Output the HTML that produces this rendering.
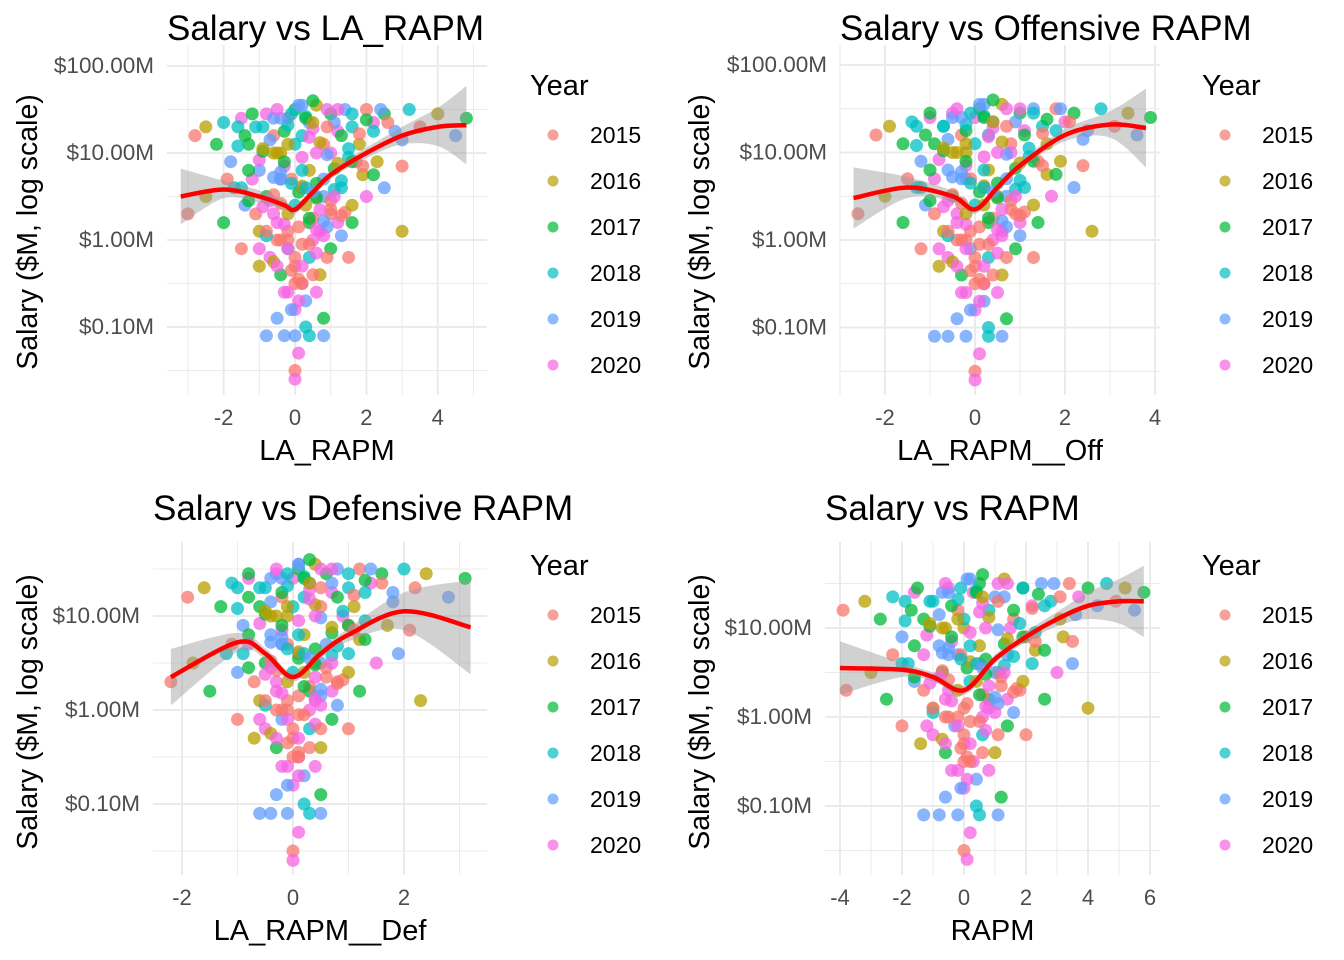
<!DOCTYPE html>
<html><head><meta charset="utf-8">
<style>
html,body{margin:0;padding:0;background:#fff;}
svg{display:block;font-family:"Liberation Sans",Arial,sans-serif;}
</style></head>
<body>
<svg id="chart" width="1344" height="960" viewBox="0 0 1344 960" xmlns="http://www.w3.org/2000/svg"></svg>
<script>
// Shared player salaries (log10 $M) and years, x metrics per panel
const salaryLog = [1.2,1.3,1.1,1.35,0.9,1.4,1.1,1.3,0.8,1.45,1.2,1.0,1.4,1.5,1.2,1.35,1.55,1.1,1.45,1.25,1.5,1.3,1.1,1.5,1.35,1.45,1.25,1.5,1.3,1.45,1.2,1.4,1.0,0.95,0.9,0.85,
 0.3,0.5,0.2,0.6,0.4,0.7,0.1,0.5,0.3,0.7,0.1,0.4,0.6,0.2,0.5,0.7,0.3,0.6,0.2,0.5,0.6,0.1,0.0,0.0,
 -0.1,-0.3,-0.2,-0.4,-0.1,-0.3,-0.5,-0.2,-0.4,-0.1,-0.2,-0.6,-0.7,-0.5,-0.6,
 -0.9,-0.8,-1.0,-0.9,-1.1,-1.1,-1.1,-1.1,-1.1,-1.3,-1.5,-1.6,
 1.45,1.3,1.15,1.0,0.85,0.7,0.55,0.4,0.25,0.1,
 1.4,1.25,1.1,0.95,0.8,0.65,0.5,0.35,0.2,0.05,
 1.5,1.35,1.2,1.05,0.9,0.75,0.6,0.45,0.3,0.15,
 1.42,1.28,1.12,0.98,0.82,0.68,0.52,0.38,0.22,0.0,
 1.38,1.22,1.08,0.92,0.78,0.62,0.48,0.32,0.18,-0.05,
 1.55,1.32,1.18,1.02,0.88,0.72,0.58,0.42,0.28,0.12,
 0.0,-0.1,-0.2,-0.3,-0.05,-0.15,-0.25,-0.35,0.05,-0.45,
 0.1,0.2,0.3,0.15,0.25,0.35,0.45,0.05,-0.1,-0.2,
 1.3,1.2,1.4,1.1,1.0,0.9,1.25,1.35,1.15,1.05,
 0.8,0.7,0.6,0.5,0.4,0.85,0.75,0.65,0.55,0.45,
 1.5,1.45,1.4,1.55,1.35,1.3,1.5,1.45,1.6,1.5,
 -0.6,-0.5,-0.7,-0.8,-0.4,-0.3,0.9,0.8,1.0,0.7];
const yearIdx = [0,1,2,3,4,5,2,3,4,5,0,1,5,2,3,4,1,0,2,5,4,3,1,0,5,2,4,3,0,1,4,2,5,3,1,0,
 0,1,2,3,4,5,1,2,5,4,0,3,5,2,1,4,0,3,2,5,4,1,0,5,
 0,1,5,2,4,0,5,3,1,2,0,5,4,0,5,
 4,5,3,2,4,4,3,4,4,5,0,5,
 2,3,4,1,5,0,2,1,0,5,
 4,2,3,5,1,2,4,0,5,3,
 5,4,2,3,0,1,3,2,0,4,
 3,5,1,4,2,3,0,5,4,0,
 2,0,3,5,4,1,2,0,5,0,
 4,3,5,2,1,4,3,0,0,5,
 0,5,0,5,0,5,1,0,5,0,
 0,5,1,0,2,5,0,4,5,0,
 3,2,4,1,5,2,3,0,4,1,
 2,4,3,5,1,0,2,3,4,5,
 5,3,2,4,1,0,5,3,2,4,
 5,0,5,4,0,5,2,3,1,0];
const years = ["2015","2016","2017","2018","2019","2020"];
const xLA = [-2.8,-2.5,-2.2,-2,-1.8,-1.5,-1.3,-1.1,-1,-0.8,-0.6,-0.4,-0.2,0,0.2,0.4,0.6,0.8,1,1.2,1.4,1.6,1.8,2,2.2,2.5,2.8,3.2,3.5,4,4.5,4.8,1,1.5,2.3,3,
 -3,-2.5,-2,-1.7,-1.4,-1.2,-1,-0.8,-0.6,-0.4,-0.2,0,0.2,0.4,0.6,0.8,1,1.3,1.6,2,2.5,3,-0.5,0.5,
 -1.5,-1,-0.7,-0.4,-0.2,0,0.2,0.4,0.7,1,1.5,-0.3,0.3,0,0.6,
 -0.5,0,0.3,0.8,-0.3,0,0.4,0.8,-0.8,0.1,0,0,
 -1.2,-0.9,-0.7,-0.5,-0.3,-0.1,0.1,0.3,0.5,0.7,
 -0.6,-0.3,0,0.2,0.4,0.6,0.8,1.0,1.2,-0.8,
 0.9,1.1,1.3,1.5,1.7,1.9,-1.5,-1.3,-1.1,0.9,
 0.3,0.5,0.7,0.9,1.1,1.3,-0.6,-0.9,0.8,-0.2,
 2.0,1.8,-1.6,-1.0,-0.4,0.2,0.6,1.4,-0.3,0.2,
 0.2,-0.2,0.4,-0.9,1.2,-0.6,1.1,-0.4,1.3,0.6,
 -0.4,-0.2,0,0.2,0.4,0.6,-0.6,-0.1,0.8,0.1,
 -0.8,-0.5,-0.2,0.1,0.4,0.7,1.0,1.3,-1.0,0.9,
 -1.6,-1.4,-0.4,-0.2,0.6,1.6,2.2,2.6,3.0,-0.9,
 -1.3,-0.4,0.3,1.1,1.6,1.9,2.2,-0.1,0.5,-0.7,
 -0.5,-0.1,0.3,0.1,0.5,0.9,1.2,1.6,0.5,2.4,
 -0.2,0.2,0.1,-0.1,0.5,-0.5,-0.3,0.2,-0.6,-1.9];
const xOff = [-2.2,-1.9,-1.6,-1.4,-1.2,-1,-0.9,-0.7,-0.6,-0.5,-0.3,-0.2,0,0.1,0.3,0.4,0.6,0.8,1,1.1,1.3,1.5,1.6,1.8,2,2.2,2.5,2.8,3.1,3.4,3.6,3.9,0.8,1.2,1.9,2.4,
 -2.6,-2,-1.6,-1.3,-1.1,-0.9,-0.7,-0.5,-0.4,-0.2,-0.1,0,0.2,0.3,0.5,0.7,0.9,1.1,1.4,1.7,2.2,2.6,-0.4,0.4,
 -1.2,-0.8,-0.6,-0.3,-0.1,0,0.2,0.3,0.6,0.9,1.3,-0.3,0.2,0,0.5,
 -0.4,0,0.3,0.7,-0.6,-0.2,0.3,0.6,-0.9,0.1,0,0,
 -1.0,-0.7,-0.6,-0.4,-0.2,-0.1,0.1,0.2,0.4,0.6,
 -0.5,-0.2,0,0.2,0.3,0.5,0.7,0.8,1.0,-0.6,
 0.7,0.9,1.1,1.2,1.4,1.6,-1.2,-1.0,-0.9,0.7,
 0.2,0.4,0.6,0.7,0.9,1.0,-0.5,-0.7,0.6,-0.2,
 1.6,1.5,-1.3,-0.8,-0.3,0.2,0.5,1.1,-0.2,0.1,
 0.2,-0.2,0.3,-0.7,1.0,-0.5,0.9,-0.3,1.0,0.5,
 -0.3,-0.2,0,0.2,0.3,0.5,-0.5,-0.1,0.6,0.1,
 -0.6,-0.4,-0.2,0.1,0.3,0.6,0.8,1.0,-0.8,0.7,
 -1.3,-1.1,-0.3,-0.2,0.5,1.3,1.8,2.1,2.4,-0.7,
 -1.0,-0.3,0.2,0.9,1.3,1.5,1.8,-0.1,0.4,-0.6,
 -0.4,-0.1,0.2,0.1,0.4,0.7,1.0,1.3,0.4,1.9,
 -0.2,0.2,0.1,-0.1,0.4,-0.4,-0.2,0.2,-0.5,-1.5];
const xDef = [-1.9,-1.6,-1.3,-1.1,-0.9,-0.8,-0.6,-0.5,-0.4,-0.3,-0.2,-0.1,0,0.1,0.2,0.3,0.4,0.5,0.6,0.7,0.8,1,1.1,1.2,1.4,1.6,1.8,2,2.2,2.4,2.8,3.1,0.9,1.3,1.7,2.1,
 -2.2,-1.8,-1.5,-1.2,-1,-0.8,-0.6,-0.5,-0.3,-0.2,-0.1,0,0.1,0.3,0.4,0.6,0.8,1,1.2,1.5,1.9,2.3,-0.3,0.3,
 -1,-0.7,-0.5,-0.3,-0.2,0,0.1,0.3,0.5,0.7,1,-0.2,0.2,0,0.4,
 -0.3,0,0.2,0.5,-0.4,-0.1,0.3,0.5,-0.6,0.1,0,0,
 -0.8,-0.6,-0.4,-0.3,-0.2,-0.1,0.1,0.2,0.3,0.4,
 -0.4,-0.2,0,0.1,0.2,0.4,0.5,0.6,0.7,-0.5,
 0.5,0.7,0.8,0.9,1.0,1.2,-0.9,-0.8,-0.7,0.5,
 0.2,0.3,0.4,0.5,0.7,0.8,-0.4,-0.5,0.5,-0.1,
 1.3,1.1,-1.0,-0.6,-0.2,0.1,0.4,0.9,-0.2,0.1,
 0.1,-0.1,0.3,-0.5,0.7,-0.4,0.7,-0.3,0.8,0.4,
 -0.2,-0.1,0,0.1,0.2,0.4,-0.4,-0.1,0.5,0.1,
 -0.5,-0.3,-0.1,0.1,0.2,0.4,0.6,0.8,-0.6,0.5,
 -1.0,-0.8,-0.2,-0.1,0.4,1.0,1.3,1.6,1.8,-0.5,
 -0.8,-0.2,0.2,0.7,1.0,1.1,1.3,-0.1,0.3,-0.4,
 -0.3,-0.1,0.2,0.1,0.3,0.5,0.7,1.0,0.3,1.4,
 -0.1,0.1,0.1,-0.1,0.3,-0.3,-0.2,0.1,-0.4,-1.1];
const xRAPM = [-3.9,-3.2,-2.7,-2.3,-2,-1.6,-1.3,-1,-0.8,-0.5,-0.2,0,0.3,0.5,0.8,1,1.3,1.6,1.9,2.2,2.5,2.8,3.1,3.4,3.7,4,4.3,4.6,4.9,5.2,5.5,5.8,1.5,2.3,3.2,3.5,
 -3.8,-3,-2.5,-2,-1.6,-1.3,-1,-0.7,-0.5,-0.2,0,0.2,0.5,0.8,1.1,1.4,1.8,2.2,2.6,3,3.5,4,-0.6,0.6,
 -2,-1.4,-1,-0.6,-0.3,0,0.3,0.6,1,1.4,2,-0.4,0.4,0,0.8,
 -0.6,0,0.4,1.2,-0.8,-0.2,0.5,1.1,-1.3,0.2,0,0.1,
 -1.5,-1.1,-0.8,-0.6,-0.4,-0.1,0.1,0.4,0.6,0.8,
 -0.7,-0.4,0,0.2,0.5,0.7,1.0,1.2,1.4,-1.0,
 1.1,1.3,1.6,1.8,2.0,2.3,-1.8,-1.6,-1.3,1.1,
 0.4,0.6,0.8,1.1,1.3,1.6,-0.7,-1.1,1.0,-0.2,
 2.4,2.2,-1.9,-1.2,-0.5,0.2,0.7,1.7,-0.4,0.2,
 0.2,-0.2,0.5,-1.1,1.4,-0.7,1.3,-0.5,1.6,0.7,
 -0.5,-0.2,0,0.2,0.5,0.7,-0.7,-0.1,1.0,0.1,
 -1.0,-0.6,-0.2,0.1,0.5,0.8,1.2,1.6,-1.2,1.1,
 -1.9,-1.7,-0.5,-0.2,0.7,1.9,2.6,3.1,3.6,-1.1,
 -1.6,-0.5,0.4,1.3,1.9,2.3,2.6,-0.1,0.6,-0.8,
 -0.6,-0.1,0.4,0.1,0.6,1.1,1.4,1.9,0.6,2.9,
 -0.2,0.2,0.1,-0.1,0.6,-0.6,-0.4,0.2,-0.7,-2.3];
// smooth fits: x, fitted log10 salary, half-width of CI
const fitX1 = [-3.2,-2,-1,-0.3,0,0.5,1,2,3,4,4.8];
const fitY1 = [0.5,0.58,0.5,0.4,0.35,0.55,0.75,1.0,1.2,1.3,1.32];
const fitSE1 = [0.32,0.1,0.07,0.05,0.05,0.05,0.05,0.06,0.1,0.22,0.45];
const fitX2 = [-2.7,-1.5,-0.5,0,0.5,1,2,3,3.8];
const fitY2 = [0.48,0.6,0.5,0.35,0.6,0.85,1.2,1.32,1.28];
const fitSE2 = [0.35,0.12,0.06,0.05,0.05,0.05,0.07,0.15,0.45];
const fitX3 = [-2.2,-1,-0.5,0,0.5,1,2,3.2];
const fitY3 = [0.35,0.72,0.6,0.35,0.6,0.8,1.05,0.88];
const fitSE3 = [0.3,0.1,0.06,0.05,0.05,0.07,0.2,0.5];
const fitX4 = [-4,-2,-1,0,1,2,3,4,5,5.8];
const fitY4 = [0.55,0.53,0.45,0.3,0.65,0.9,1.1,1.25,1.3,1.3];
const fitSE4 = [0.3,0.08,0.05,0.05,0.05,0.06,0.08,0.15,0.25,0.4];
const yTickVals = [2,1,0,-1];
const yTickLabels = ["$100.00M","$10.00M","$1.00M","$0.10M"];

const colors = ["#F8766D","#B79F00","#00BA38","#00BFC4","#619CFF","#F564E3"];
const NS = "http://www.w3.org/2000/svg";
const svg = document.getElementById("chart");
function mk(tag, attrs, parent){const e=document.createElementNS(NS,tag);for(const k in attrs)e.setAttribute(k,attrs[k]);(parent||svg).appendChild(e);return e;}

const panels = [
 {name:"la-rapm",title:"Salary vs LA_RAPM",xt:"LA_RAPM",xs:xLA,fx:fitX1,fy:fitY1,fs:fitSE1,L:167,R:487,T:45,B:395,x0:295,ux:35.7,y1:240,dec:87,ticks:[-2,0,2,4],xmin:-3.6,xmax:5.4,titleY:40,ox:0,oy:0},
 {name:"offensive-rapm",title:"Salary vs Offensive RAPM",xt:"LA_RAPM__Off",xs:xOff,fx:fitX2,fy:fitY2,fs:fitSE2,L:840,R:1160,T:45,B:395,x0:975,ux:45,y1:240,dec:87.5,ticks:[-2,0,2,4],xmin:-3,xmax:4.1,titleY:40,ox:672,oy:0},
 {name:"defensive-rapm",title:"Salary vs Defensive RAPM",xt:"LA_RAPM__Def",xs:xDef,fx:fitX3,fy:fitY3,fs:fitSE3,L:153,R:487,T:542,B:875,x0:293,ux:55.5,y1:710,dec:94,ticks:[-2,0,2],xmin:-2.52,xmax:3.5,titleY:520,ox:0,oy:480},
 {name:"rapm",title:"Salary vs RAPM",xt:"RAPM",xs:xRAPM,fx:fitX4,fy:fitY4,fs:fitSE4,L:825,R:1160,T:542,B:875,x0:964,ux:31,y1:717,dec:89,ticks:[-4,-2,0,2,4,6],xmin:-4.5,xmax:6.3,titleY:520,ox:672,oy:480}
];

function spline(pts){
 let d="M"+pts[0][0]+","+pts[0][1];
 for(let i=0;i<pts.length-1;i++){
  const p0=pts[Math.max(0,i-1)],p1=pts[i],p2=pts[i+1],p3=pts[Math.min(pts.length-1,i+2)];
  const c1=[p1[0]+(p2[0]-p0[0])/6,p1[1]+(p2[1]-p0[1])/6];
  const c2=[p2[0]-(p3[0]-p1[0])/6,p2[1]-(p3[1]-p1[1])/6];
  d+=" C"+c1[0].toFixed(1)+","+c1[1].toFixed(1)+" "+c2[0].toFixed(1)+","+c2[1].toFixed(1)+" "+p2[0].toFixed(1)+","+p2[1].toFixed(1);
 }
 return d;
}

panels.forEach(p=>{
 const g=mk("g",{});
 
 
 const X=v=>p.x0+v*p.ux, Y=v=>p.y1-v*p.dec;
 const ylo=(p.y1-p.B)/p.dec, yhi=(p.y1-p.T)/p.dec;
 for(let v=Math.ceil(ylo*2)/2; v<=yhi; v+=0.5){
  const major=Math.abs(v-Math.round(v))<1e-6;
  const l=mk("line",{x1:p.L,x2:p.R,y1:Y(v),y2:Y(v),stroke:"#ebebeb","stroke-width":major?2:1},g);
  
  
 }
 for(let v=Math.ceil(p.xmin); v<=p.xmax; v+=1){
  const major=v%2===0;
  const l=mk("line",{x1:X(v),x2:X(v),y1:p.T,y2:p.B,stroke:"#ebebeb","stroke-width":major?2:1},g);
  
  
 }
 yTickVals.forEach((v,i)=>{
  const yy=Y(v); if(yy<p.T||yy>p.B) return;
  const t=mk("text",{x:p.L-13,y:yy+7,"text-anchor":"end","font-size":22.5,fill:"#4d4d4d"},g);
  t.textContent=yTickLabels[i];
  
  
 });
 p.ticks.forEach(v=>{
  const t=mk("text",{x:X(v),y:p.B+30,"text-anchor":"middle","font-size":22,fill:"#4d4d4d"},g);
  t.textContent=v;
  
  
 });
 p.xs.forEach((xv,i)=>{
  const c=mk("circle",{cx:X(xv).toFixed(1),cy:Y(salaryLog[i]).toFixed(1),r:6.5,fill:colors[yearIdx[i]],"fill-opacity":0.75},g);
  
  
 });
 const up=p.fx.map((x,i)=>[X(x),Y(p.fy[i]+p.fs[i])]);
 const lo=p.fx.map((x,i)=>[X(x),Y(p.fy[i]-p.fs[i])]).reverse();
 const ls=spline(lo);
 const rd=spline(up)+" L"+lo[0][0]+","+lo[0][1]+ls.slice(ls.indexOf(" "))+" Z";
 const rib=mk("path",{d:rd,fill:"#999999","fill-opacity":0.45,stroke:"none"},g);
 
 
 const ln=mk("path",{d:spline(p.fx.map((x,i)=>[X(x),Y(p.fy[i])])),fill:"none",stroke:"#ff0000","stroke-width":4.5},g);
 
 
 const tt=mk("text",{x:p.L,y:p.titleY,"font-size":35,fill:"#000"},g);
 tt.textContent=p.title;
 
 
 const xt=mk("text",{x:(p.L+p.R)/2,y:p.B+65,"text-anchor":"middle","font-size":29,fill:"#000"},g);
 xt.textContent=p.xt;
 
 
 const cy=232+p.oy, cx=37+p.ox;
 const yt=mk("text",{x:cx,y:cy,"text-anchor":"middle","font-size":28.5,fill:"#000",transform:"rotate(-90 "+cx+" "+cy+")"},g);
 yt.textContent="Salary ($M, log scale)";
 
 
 const lg=mk("g",{},g);
 
 
 const lt=mk("text",{x:530+p.ox,y:95+p.oy,"font-size":29,fill:"#000"},lg);
 lt.textContent="Year";
 
 
 years.forEach((yr,i)=>{
  const yy=135+i*46+p.oy;
  const c=mk("circle",{cx:553+p.ox,cy:yy,r:5.5,fill:colors[i],"fill-opacity":0.7},lg);
  
  
  const t=mk("text",{x:590+p.ox,y:yy+8,"font-size":23,fill:"#000"},lg);
  t.textContent=yr;
  
  
 });
});
</script>
</body></html>
